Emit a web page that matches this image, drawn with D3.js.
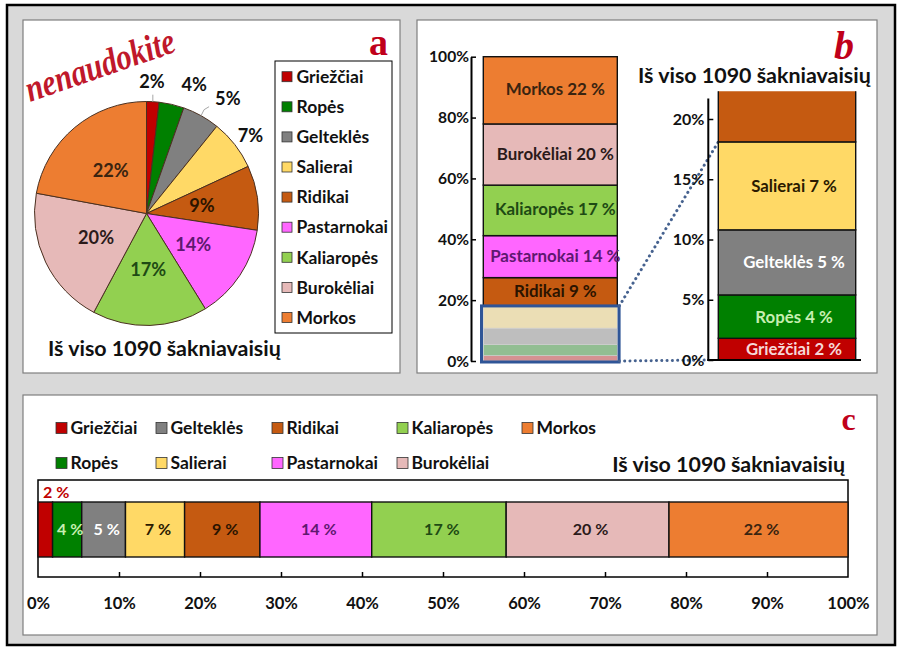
<!DOCTYPE html>
<html><head><meta charset="utf-8">
<script src="https://cdn.jsdelivr.net/npm/d3@7"></script>
<style>
body{margin:0;background:#fff}
svg{display:block}
</style>
</head><body>
<svg id="chart" width="900" height="651" font-family="Lato,'Open Sans',sans-serif" font-weight="bold"></svg>
<script>
// ---------- data ----------
const categories = ["Griežčiai","Ropės","Gelteklės","Salierai","Ridikai","Pastarnokai","Kaliaropės","Burokėliai","Morkos"];
const shares = [1.8, 3.6, 5.4, 7.3, 9.3, 13.8, 16.6, 20.1, 22.1]; // percent of 1090
const fillColors = ["#c00000","#008000","#808080","#ffd966","#c55a11","#ff66ff","#92d050","#e6b9b8","#ed7d31"];
const labelColors = ["#f6d8d8","#c6efb0","#ffffff","#2b1a00","#2b1400","#5e1870","#1e4a14","#2b1a1a","#3a2410"];
const totalText = "Iš viso 1090 šakniavaisių";
const ticksB_left = [0,20,40,60,80,100];
const ticksB_right = [0,5,10,15,20];
const ticksC = [0,10,20,30,40,50,60,70,80,90,100];
const zoomMax = 22.3;      // right bar of panel b is cut here
const zoomAxisTop = 21.7;  // right axis line ends here

const FONT = "Lato,'Open Sans',sans-serif";
const WEIGHT = "bold";
const SERIF = "'Liberation Serif','DejaVu Serif',serif";
const svg = d3.select("#chart");
function measure(t, size){
  const n = svg.append("text").attr("font-size",size).text(t);
  const w = n.node().getComputedTextLength(); n.remove(); return w;
}
function fit(t, w){ return 100*w/measure(t,100); }

const data = categories.map((c,i)=>({name:c, v:shares[i], color:fillColors[i], lc:labelColors[i], pct:Math.round(shares[i])}));
let acc=0; data.forEach(d=>{d.y0=acc; acc+=d.v; d.y1=acc;});

// ---------- frame ----------
svg.append("rect").attr("x",7).attr("y",5).attr("width",888).attr("height",640)
  .attr("fill","#d9d9d9").attr("stroke","#000").attr("stroke-width",2.5);
const panels=[[23,20,377,353],[417,20,460,353],[23,395,854,240]];
panels.forEach(p=>svg.append("rect").attr("x",p[0]).attr("y",p[1]).attr("width",p[2]).attr("height",p[3])
  .attr("fill","#fff").attr("stroke","#7f7f7f").attr("stroke-width",1.2));

const titleSize = fit(totalText,233);
const legendSize = fit("Pastarnokai",91.5);
const red = "#c0001a";

// ---------- panel a : pie ----------
const R = 112, cx=146.5, cy=213.5;
const gA = svg.append("g").attr("transform",`translate(${cx},${cy})`);
const arcs = d3.pie().sort(null).value(d=>d.v)(data);
const arc = d3.arc().innerRadius(0).outerRadius(R);
gA.selectAll("path").data(arcs).join("path").attr("d",arc)
  .attr("fill",d=>d.data.color).attr("stroke","#4a3020").attr("stroke-width",1);
const pieLblSize = fit("22%",36);
const inArc = d3.arc().innerRadius(R).outerRadius(0);
gA.selectAll("text.in").data(arcs.filter(d=>d.index>=4)).join("text")
  .attr("transform",d=>`translate(${inArc.centroid(d)})`)
  .attr("text-anchor","middle").attr("dy","0.36em").attr("font-size",pieLblSize)
  .attr("fill",d=>d.data.lc).text(d=>d.data.pct+"%");
const outNudge=[[-2,0],[18,0],[17,0],[0,3]];
const outArc = d3.arc().innerRadius(132).outerRadius(132);
gA.selectAll("text.out").data(arcs.filter(d=>d.index<4)).join("text")
  .attr("transform",d=>{const c=outArc.centroid(d);return `translate(${c[0]+outNudge[d.index][0]},${c[1]+outNudge[d.index][1]})`;})
  .attr("text-anchor","middle").attr("dy","0.36em").attr("font-size",pieLblSize)
  .attr("fill","#111").text(d=>d.data.pct+"%");
function polar(a,r){return [r*Math.sin(a), -r*Math.cos(a)];}
{
  const a0=(arcs[0].startAngle+arcs[0].endAngle)/2;
  const p=polar(a0,R); gA.append("path").attr("d",`M${p}L${p[0]},${p[1]-7}`).attr("stroke","#a6a6a6").attr("fill","none");
  const a2=(arcs[2].startAngle+arcs[2].endAngle)/2;
  const q=polar(a2,R); gA.append("path").attr("d",`M${q}L${q[0]+3},${q[1]-6}L${q[0]+8},${q[1]-9}`).attr("stroke","#a6a6a6").attr("fill","none");
}
// legend a
svg.append("rect").attr("x",275).attr("y",61).attr("width",117).attr("height",272).attr("fill","#fff").attr("stroke","#000").attr("stroke-width",1);
const legA = svg.append("g").selectAll("g").data(data).join("g")
  .attr("transform",(d,i)=>`translate(282,${76.7+30.1*i})`);
legA.append("rect").attr("x",0).attr("y",-5).attr("width",10).attr("height",10).attr("fill",d=>d.color).attr("stroke","#333").attr("stroke-width",0.8);
legA.append("text").attr("x",14.5).attr("dy","0.36em").attr("font-size",legendSize).attr("fill","#111").text(d=>d.name);
svg.append("text").attr("x",48).attr("y",356).attr("font-size",titleSize).attr("fill","#111").text(totalText);
svg.append("text").attr("x",378.5).attr("y",55).attr("text-anchor","middle").attr("font-family",SERIF).attr("font-weight","bold")
  .attr("font-size",38).attr("fill",red).text("a");
svg.append("text").attr("transform","translate(30,102) rotate(-19)")
  .attr("font-family",SERIF).attr("font-style","italic").attr("font-weight","bold")
  .attr("font-size",37).attr("textLength",156).attr("lengthAdjust","spacingAndGlyphs").attr("fill","#c0182b").text("nenaudokite");

// ---------- panel b ----------
const yL = d3.scaleLinear().domain([0,100]).range([361,56.7]);
const xL = d3.scaleBand().domain(["all"]).range([483.3,617.3]);
const yR = d3.scaleLinear().domain([0,20]).range([360,119]);
const xR = d3.scaleBand().domain(["all"]).range([718.3,855.7]);
const axSizeB = fit("100%",40);
const axL = svg.append("g").attr("transform","translate(471,0)")
  .call(d3.axisLeft(yL).tickValues(ticksB_left).tickFormat(d=>d+"%").tickSizeInner(-5).tickSizeOuter(0).tickPadding(2));
axL.select(".domain").attr("stroke","#000").attr("stroke-width",2);
axL.selectAll(".tick line").attr("stroke","#000").attr("stroke-width",1.5);
axL.selectAll("text").attr("font-size",axSizeB).attr("font-family",FONT).attr("font-weight",WEIGHT).attr("fill","#111");

svg.append("g").selectAll("rect").data(data.slice(0,4)).join("rect")
  .attr("x",xL("all")).attr("width",xL.bandwidth())
  .attr("y",d=>yL(d.y1)).attr("height",d=>yL(d.y0)-yL(d.y1))
  .attr("fill",d=>d3.interpolateRgb(d.color,"#e0e0e0")(0.65)).attr("stroke","#cfcfcf").attr("stroke-width",0.6);
svg.append("g").selectAll("rect").data(data.slice(4)).join("rect")
  .attr("x",xL("all")).attr("width",xL.bandwidth())
  .attr("y",d=>yL(d.y1)).attr("height",d=>yL(d.y0)-yL(d.y1))
  .attr("fill",d=>d.color).attr("stroke","#111").attr("stroke-width",1.4);
const lblSizeL = fit("Burokėliai 20 %",117);
svg.append("g").selectAll("text").data(data.slice(4)).join("text")
  .attr("x",xL("all")+xL.bandwidth()/2+5).attr("y",d=>yL((d.y0+d.y1)/2)-1).attr("dy","0.36em")
  .attr("text-anchor","middle").attr("font-size",lblSizeL).attr("fill",d=>d.lc).text(d=>`${d.name} ${d.pct} %`);
const cut = data[3].y1;
svg.append("rect").attr("x",xL("all")-1.8).attr("width",xL.bandwidth()+3.6)
  .attr("y",yL(cut)).attr("height",yL(0)-yL(cut)+1)
  .attr("fill","none").attr("stroke","#2f5597").attr("stroke-width",3);
const dot = {stroke:"#46628f","stroke-width":3,"stroke-dasharray":"0.1 5.2","stroke-linecap":"round"};
const c1 = svg.append("line").attr("x1",xL("all")+xL.bandwidth()+2).attr("y1",yL(cut)).attr("x2",xR("all")).attr("y2",yR(cut));
const c2 = svg.append("line").attr("x1",xL("all")+xL.bandwidth()+2).attr("y1",yL(0)).attr("x2",708).attr("y2",yR(0));
[c1,c2].forEach(l=>Object.entries(dot).forEach(([k,v])=>l.attr(k,v)));

svg.append("clipPath").attr("id","zclip").append("rect")
  .attr("x",xR("all")-3).attr("width",xR.bandwidth()+6).attr("y",yR(zoomMax)).attr("height",yR(0)-yR(zoomMax)+3);
svg.append("g").attr("clip-path","url(#zclip)").selectAll("rect").data(data.slice(0,5)).join("rect")
  .attr("x",xR("all")).attr("width",xR.bandwidth())
  .attr("y",d=>yR(d.y1)).attr("height",d=>yR(d.y0)-yR(d.y1))
  .attr("fill",d=>d.color).attr("stroke","#111").attr("stroke-width",1.4);
const lblSizeR = fit("Gelteklės 5 %",101.7);
svg.append("g").selectAll("text").data(data.slice(0,4)).join("text")
  .attr("x",xR("all")+xR.bandwidth()/2+7).attr("y",d=>yR((d.y0+d.y1)/2)).attr("dy","0.36em")
  .attr("text-anchor","middle").attr("font-size",lblSizeR).attr("fill",d=>d.lc).text(d=>`${d.name} ${d.pct} %`);
const axR = svg.append("g").attr("transform","translate(708.3,0)")
  .call(d3.axisLeft(yR).tickValues(ticksB_right).tickFormat(d=>d+"%").tickSizeInner(-5).tickSizeOuter(0).tickPadding(4));
axR.select(".domain").remove();
axR.selectAll(".tick line").attr("stroke","#000").attr("stroke-width",1.5);
axR.selectAll("text").attr("font-size",fit("20%",31.7)).attr("font-family",FONT).attr("font-weight",WEIGHT).attr("fill","#111");
svg.append("line").attr("x1",708.3).attr("x2",708.3).attr("y1",yR(0)+1).attr("y2",yR(zoomAxisTop)).attr("stroke","#000").attr("stroke-width",2);
svg.append("line").attr("x1",707.3).attr("x2",861).attr("y1",yR(0)).attr("y2",yR(0)).attr("stroke","#000").attr("stroke-width",2);
svg.append("text").attr("x",638).attr("y",82.5).attr("font-size",titleSize).attr("fill","#111").text(totalText);
svg.append("text").attr("x",844).attr("y",59).attr("text-anchor","middle").attr("font-family",SERIF).attr("font-weight","bold")
  .attr("font-style","italic").attr("font-size",40).attr("fill",red).text("b");

// ---------- panel c ----------
const xC = d3.scaleLinear().domain([0,100]).range([38,848]);
const yC = d3.scaleBand().domain(["all"]).range([502,557]);
svg.append("rect").attr("x",xC(0)).attr("y",480).attr("width",xC(100)-xC(0)).attr("height",97)
  .attr("fill","#fff").attr("stroke","#000").attr("stroke-width",1.5);
svg.append("g").selectAll("rect").data(data).join("rect")
  .attr("x",d=>xC(d.y0)).attr("width",d=>xC(d.y1)-xC(d.y0))
  .attr("y",yC("all")).attr("height",yC.bandwidth())
  .attr("fill",d=>d.color).attr("stroke","#111").attr("stroke-width",1.4);
const lblSizeC = fit("14 %",35.7);
svg.append("g").selectAll("text").data(data.slice(1)).join("text")
  .attr("x",d=>xC((d.y0+d.y1)/2)+3).attr("y",yC("all")+yC.bandwidth()/2).attr("dy","0.36em")
  .attr("text-anchor","middle").attr("font-size",lblSizeC).attr("fill",d=>d.lc).text(d=>`${d.pct} %`);
svg.append("text").attr("x",xC(data[0].y1/2)+11).attr("y",492.7).attr("dy","0.36em")
  .attr("text-anchor","middle").attr("font-size",lblSizeC).attr("fill","#c00000").text(`${data[0].pct} %`);
const axC = svg.append("g").attr("transform","translate(0,577)")
  .call(d3.axisBottom(xC).tickValues(ticksC).tickFormat(d=>d+"%").tickSizeInner(-5).tickSizeOuter(0).tickPadding(20));
axC.select(".domain").remove();
axC.selectAll(".tick line").attr("stroke","#000").attr("stroke-width",1.5).filter(d=>d===0||d===100).remove();
axC.selectAll("text").attr("font-size",fit("100%",42.3)).attr("font-family",FONT).attr("font-weight",WEIGHT).attr("fill","#111");
const colX=[56,156,272,397,522], rowY=[428,463];
const legC = svg.append("g").selectAll("g").data(data).join("g")
  .attr("transform",(d,i)=>`translate(${colX[Math.floor(i/2)]},${rowY[i%2]})`);
legC.append("rect").attr("x",0).attr("y",-5.5).attr("width",11).attr("height",11).attr("fill",d=>d.color).attr("stroke","#333").attr("stroke-width",0.8);
legC.append("text").attr("x",14.5).attr("dy","0.36em").attr("font-size",legendSize).attr("fill","#111").text(d=>d.name);
svg.append("text").attr("x",845).attr("y",472).attr("text-anchor","end").attr("font-size",titleSize).attr("fill","#111").text(totalText);
svg.append("text").attr("x",848.7).attr("y",430).attr("text-anchor","middle").attr("font-family",SERIF).attr("font-weight","bold")
  .attr("font-size",32).attr("fill",red).text("c");
</script>
</body></html>
